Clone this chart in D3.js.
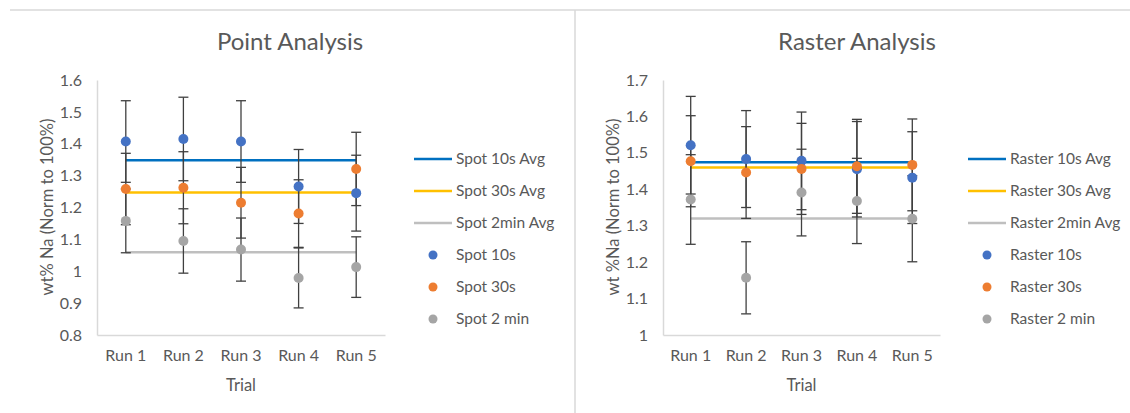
<!DOCTYPE html>
<html lang="en">

<head>
    <meta charset="UTF-8">
    <script src="https://d3js.org/d3.v7.min.js"></script>
    <style>
        html,
        body {
            margin: 0;
            padding: 0;
            overflow: hidden;
            background: #fff;
        }

        svg text {
            font-family: "Lato", "Liberation Sans", sans-serif;
            fill: #595959;
        }

        .axis path {
            stroke: #d9d9d9;
            stroke-width: 1.5px;
        }

        .axis text {
            font-size: 16px;
        }

        .errbar {
            stroke: #404040;
            stroke-width: 1.3px;
            fill: none;
        }
    </style>
</head>

<body>
    <svg id="chart" width="1130" height="413"></svg>
    <script>
        // trials
        const runs = ["Run 1", "Run 2", "Run 3", "Run 4", "Run 5"];

        // point analysis
        const spot10 = [1.407, 1.415, 1.407, 1.266, 1.245];
        const spot10Err = [0.128, 0.131, 0.128, 0.116, 0.119];
        const spot30 = [1.258, 1.262, 1.215, 1.181, 1.321];
        const spot30Err = [0.112, 0.113, 0.111, 0.106, 0.115];
        const spot2 = [1.158, 1.095, 1.068, 0.979, 1.013];
        const spot2Err = [0.100, 0.101, 0.099, 0.094, 0.095];
        const spotAvg = [1.348, 1.247, 1.060]; // 10s, 30s, 2min

        // raster analysis
        const raster10 = [1.521, 1.483, 1.478, 1.455, 1.432];
        const raster10Err = [0.134, 0.133, 0.134, 0.131, 0.126];
        const raster30 = [1.477, 1.446, 1.456, 1.463, 1.467];
        const raster30Err = [0.125, 0.126, 0.125, 0.129, 0.126];
        const raster2 = [1.372, 1.157, 1.391, 1.368, 1.319];
        const raster2Err = [0.123, 0.099, 0.119, 0.117, 0.118];
        const rasterAvg = [1.474, 1.460, 1.320];

        const avgColors = ["#0070c0", "#ffc000", "#bfbfbf"];
        const dotColors = ["#4472c4", "#ed7d31", "#a5a5a5"];

        const svg = d3.select("#chart");

        // frame lines
        svg.append("line").attr("x1", 10).attr("x2", 1130).attr("y1", 10).attr("y2", 10)
            .attr("stroke", "#d9d9d9").attr("stroke-width", 1.5);
        svg.append("line").attr("x1", 575).attr("x2", 575).attr("y1", 10).attr("y2", 413)
            .attr("stroke", "#d9d9d9").attr("stroke-width", 1.5);

        function panel(opts) {
            const g = svg.append("g");

            const x = d3.scaleBand().domain(runs).range(opts.xRange);
            const cx = d => x(d) + x.bandwidth() / 2;
            const y = d3.scaleLinear().domain(opts.yDomain).range([335, 80]);

            g.append("text")
                .attr("x", opts.titleX).attr("y", 50)
                .attr("text-anchor", "middle")
                .style("font-size", "24px")
                .text(opts.title);

            const ticks = d3.range(opts.yDomain[0], opts.yDomain[1] + 0.001, 0.1);
            g.append("g").attr("class", "axis")
                .attr("transform", `translate(${opts.xRange[0]},0)`)
                .call(d3.axisLeft(y).tickValues(ticks).tickSize(0).tickPadding(15)
                    .tickFormat(d => +d.toFixed(1)));

            g.append("g").attr("class", "axis")
                .attr("transform", "translate(0,335)")
                .call(d3.axisBottom(x).tickSize(0).tickPadding(15));

            g.selectAll(".axis .domain").attr("stroke", "#d9d9d9");

            g.append("text")
                .attr("transform", `translate(${opts.yTitleX},207) rotate(-90)`)
                .attr("text-anchor", "middle")
                .attr("dy", "0.35em")
                .style("font-size", "16.5px")
                .text(opts.yTitle);

            g.append("text")
                .attr("x", (opts.xRange[0] + opts.xRange[1]) / 2).attr("y", 385)
                .attr("text-anchor", "middle").attr("dy", "0.35em")
                .style("font-size", "16.5px")
                .text("Trial");

            // average lines
            opts.avg.forEach((v, i) => {
                g.append("line")
                    .attr("x1", cx(runs[0])).attr("x2", cx(runs[runs.length - 1]))
                    .attr("y1", y(v)).attr("y2", y(v))
                    .attr("stroke", avgColors[i]).attr("stroke-width", 2.5);
            });

            // error bars
            opts.series.forEach(s => {
                const eg = g.append("g").attr("class", "errbar");
                s.vals.forEach((v, j) => {
                    const xc = cx(runs[j]), e = s.err[j];
                    eg.append("line").attr("x1", xc).attr("x2", xc).attr("y1", y(v - e)).attr("y2", y(v + e));
                    [v - e, v + e].forEach(t => {
                        eg.append("line").attr("x1", xc - 5).attr("x2", xc + 5).attr("y1", y(t)).attr("y2", y(t));
                    });
                });
            });

            // points
            opts.series.forEach((s, i) => {
                g.append("g").selectAll("circle").data(s.vals).join("circle")
                    .attr("cx", (d, j) => cx(runs[j]))
                    .attr("cy", d => y(d))
                    .attr("r", 5)
                    .attr("fill", dotColors[i]);
            });

            // legend
            const lg = g.append("g");
            const rowY = [159, 191, 223, 255, 287, 319];
            opts.legend.forEach((name, i) => {
                const ry = rowY[i];
                if (i < 3) {
                    lg.append("line").attr("x1", opts.legX).attr("x2", opts.legX + 38)
                        .attr("y1", ry).attr("y2", ry)
                        .attr("stroke", avgColors[i]).attr("stroke-width", 2.5);
                } else {
                    lg.append("circle").attr("cx", opts.legX + 19).attr("cy", ry).attr("r", 4.5)
                        .attr("fill", dotColors[i - 3]);
                }
                lg.append("text").attr("x", opts.legX + 42).attr("y", ry).attr("dy", "0.35em")
                    .style("font-size", "15.5px").text(name);
            });
        }

        panel({
            title: "Point Analysis", titleX: 290,
            xRange: [97, 385], yDomain: [0.8, 1.6],
            yTitle: "wt% Na (Norm to 100%)", yTitleX: 47,
            avg: spotAvg,
            series: [
                { vals: spot10, err: spot10Err },
                { vals: spot30, err: spot30Err },
                { vals: spot2, err: spot2Err }
            ],
            legX: 414,
            legend: ["Spot 10s Avg", "Spot 30s Avg", "Spot 2min Avg", "Spot 10s", "Spot 30s", "Spot 2 min"]
        });

        panel({
            title: "Raster Analysis", titleX: 857,
            xRange: [663, 940], yDomain: [1.0, 1.7],
            yTitle: "wt %Na (Norm to 100%)", yTitleX: 613,
            avg: rasterAvg,
            series: [
                { vals: raster10, err: raster10Err },
                { vals: raster30, err: raster30Err },
                { vals: raster2, err: raster2Err }
            ],
            legX: 968,
            legend: ["Raster 10s Avg", "Raster 30s Avg", "Raster 2min Avg", "Raster 10s", "Raster 30s", "Raster 2 min"]
        });
    </script>
</body>

</html>
